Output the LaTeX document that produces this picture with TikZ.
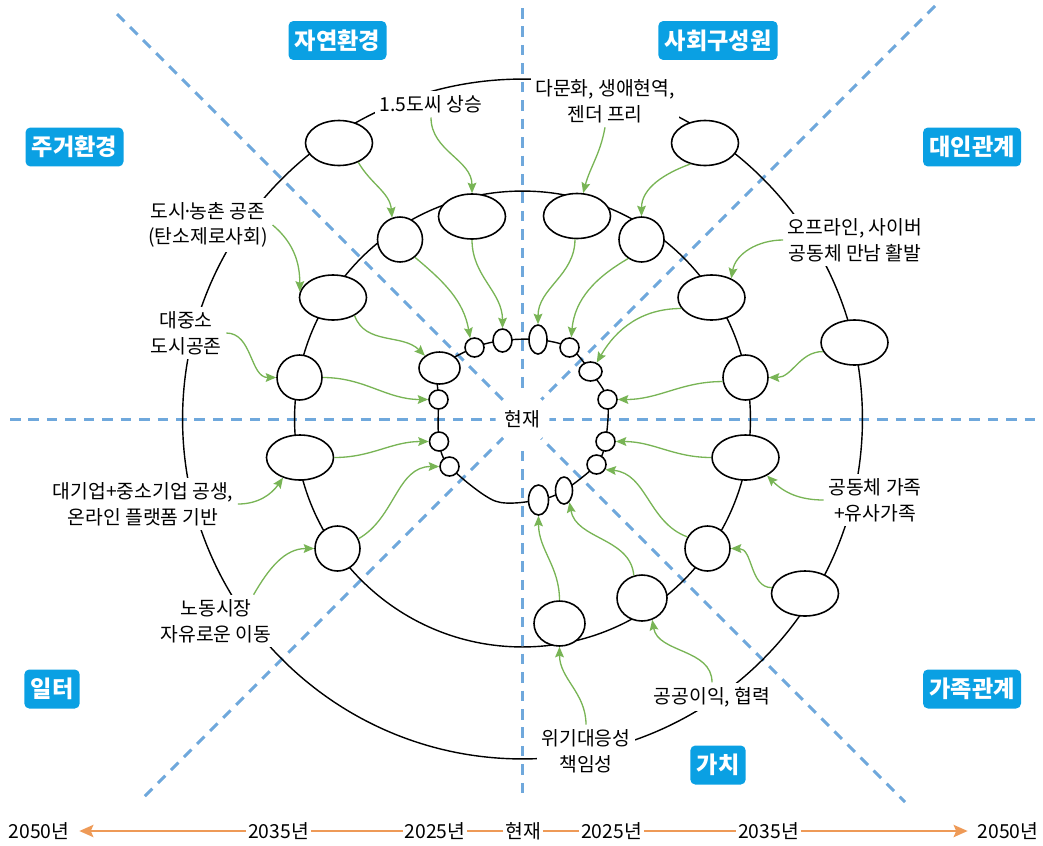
\documentclass[tikz,border=0pt]{standalone}
\usepackage{fontspec}
\setmainfont{Noto Sans CJK KR}
\usetikzlibrary{positioning}
\usetikzlibrary{shapes.geometric}
\usetikzlibrary{arrows.meta}
\definecolor{catblue}{HTML}{0AA0E3}
\definecolor{dashblue}{HTML}{6FA8DC}
\definecolor{leafgreen}{HTML}{78B455}
\definecolor{timeorange}{HTML}{EE9A57}
\pgfdeclarelayer{background}
\pgfsetlayers{background,main}

\begin{document}
\begin{tikzpicture}[x=0.02cm, y=-0.02cm,
    every node/.style={font=\fontsize{11}{14.6}\selectfont},
    oval/.style 2 args={draw, ellipse, fill=white, line width=0.9pt, inner sep=0pt,
        minimum width=#1*0.02cm, minimum height=#2*0.02cm},
    lbl/.style={fill=white, align=center, inner sep=2.5pt},
    cat/.style={fill=catblue, text=white, rounded corners=2.8pt, inner xsep=3.6pt,
        minimum height=0.78cm, font=\fontsize{13.2}{15}\selectfont\bfseries},
    yr/.style={inner xsep=1pt},
    ringline/.style={line width=0.8pt},
    guide/.style={dashblue, line width=1.7pt, dash pattern=on 6pt off 4.5pt},
    sprout/.style={leafgreen, line width=0.75pt, -{Stealth[length=6pt,width=5pt,inset=1pt]}},
    timespan/.style={timeorange, line width=1.2pt}]

    \useasboundingbox (0,0) rectangle (1043,845);

    % Centre
    \node[circle, fill=white, minimum size=1.08cm, inner sep=0pt] (present) at (522.5,419) {현재};

    % Inner ring (2025)
    \node[oval={41}{32}] (i1) at (439.5,368) {};
    \node[oval={19}{19}] (i2) at (474.5,347.5) {};
    \node[oval={19}{23}] (i3) at (502.5,340.5) {};
    \node[oval={18}{29}] (i4) at (538,339.5) {};
    \node[oval={19}{19}] (i5) at (569.5,347.5) {};
    \node[oval={23}{19}] (i6) at (590.5,371.5) {};
    \node[oval={19}{19}] (i7) at (607.5,399.5) {};
    \node[oval={19}{19}] (i8) at (605.5,441.5) {};
    \node[oval={19}{19}] (i9) at (596.5,464.5) {};
    \node[oval={17}{27}] (i10) at (564,490.5) {};
    \node[oval={20}{30}] (i11) at (538.5,500) {};
    \node[oval={19}{19}] (i12) at (449.5,466.5) {};
    \node[oval={19}{19}] (i13) at (439,441.5) {};
    \node[oval={19}{19}] (i14) at (438.5,399.5) {};

    % Middle ring (2035)
    \node[oval={45}{45}] (m1) at (400,239.5) {};
    \node[oval={67}{45}] (m2) at (472,216.5) {};
    \node[oval={67}{45}] (m3) at (577,216) {};
    \node[oval={45}{45}] (m4) at (641.5,239.5) {};
    \node[oval={67}{45}] (m5) at (711.5,297.5) {};
    \node[oval={45}{45}] (m6) at (745.5,377.5) {};
    \node[oval={67}{45}] (m7) at (745.5,457.5) {};
    \node[oval={45}{45}] (m8) at (707.5,548.5) {};
    \node[oval={50}{46}] (m9) at (642,598) {};
    \node[oval={51}{45}] (m10) at (559.5,623.5) {};
    \node[oval={45}{45}] (m11) at (337.5,548.5) {};
    \node[oval={67}{45}] (m12) at (300,457.5) {};
    \node[oval={45}{45}] (m13) at (299.5,377.5) {};
    \node[oval={67}{45}] (m14) at (333,297.5) {};

    % Outer ring (2050)
    \node[oval={67}{45}] (o1) at (339,143) {};
    \node[oval={67}{45}] (o2) at (705,143) {};
    \node[oval={67}{45}] (o3) at (854.5,342.5) {};
    \node[oval={67}{45}] (o4) at (805,593.5) {};

    % Labels on the outer ring
    \node[lbl] (heat) at (431,104) {1.5도씨 상승};
    \node[lbl] (diversity) at (605,101) {다문화, 생애현역,\\젠더 프리};
    \node[lbl] (meetup) at (855,240) {오프라인, 사이버\\공동체 만남 활발};
    \node[lbl] (family) at (875,500) {공동체 가족\\+유사가족};
    \node[lbl] (publicgood) at (712,697) {공공이익, 협력};
    \node[lbl] (crisis) at (586,751) {위기대응성\\책임성};
    \node[lbl] (labour) at (216,621) {노동시장\\자유로운 이동};
    \node[lbl] (platform) at (143,504) {대기업+중소기업 공생,\\온라인 플랫폼 기반};
    \node[lbl] (cities) at (186,333) {대중소\\도시공존};
    \node[lbl] (ruralurban) at (208,225) {도시\kern-0.2em·\kern-0.2em농촌 공존\\(탄소제로사회)};

    % Sectors
    \node[cat] (nature) at (337.5,40.5) {자연환경};
    \node[cat] (members) at (718,40.5) {사회구성원};
    \node[cat] (housing) at (74.5,147) {주거환경};
    \node[cat] (relations) at (972,147) {대인관계};
    \node[cat] (workplace) at (52,689) {일터};
    \node[cat] (kinship) at (972,689) {가족관계};
    \node[cat] (values) at (718,765) {가치};

    % Guides and rings
    \begin{pgfonlayer}{background}
        \draw[guide] (10,419) -- (1035,419);
        \draw[guide] (522.5,8) -- (522.5,800);
        \draw[guide] (117,14) -- (905,802);
        \draw[guide] (935,6) -- (140,801);
        \draw[ringline] (present.center) circle[radius=6.8cm];
        \draw[ringline] (present.center) circle[radius=4.56cm];
        \draw[ringline] plot[smooth cycle] coordinates {(i1.center) (i2.center) (i3.center)
            (i4.center) (i5.center) (i6.center) (i7.center) (i8.center) (i9.center)
            (i10.center) (i11.center) (495,501) (i12.center) (i13.center) (i14.center)};
    \end{pgfonlayer}

    % Arrows 2050 -> 2035
    \draw[sprout] (heat.south) to[out=-90, in=90] (m2.north);
    \draw[sprout] (o1.-45) to[out=-60, in=95] (m1.110);
    \draw[sprout] (ruralurban.east) to[out=-40, in=90] (m14.170);
    \draw[sprout] (cities.east) to[out=0, in=180] (m13.west);
    \draw[sprout] (platform.east) to[out=0, in=235] (m12.230);
    \draw[sprout] (labour.35) to[out=60, in=180] (m11.west);
    \draw[sprout] (crisis.north) to[out=90, in=-90] (m10.south);
    \draw[sprout] (publicgood.north) to[out=90, in=-80] (m9.-65);
    \draw[sprout] (o4.170) to[out=180, in=0] (m8.east);
    \draw[sprout] (family.west) to[out=180, in=-45] (m7.-40);
    \draw[sprout] (o3.196) to[out=180, in=0] (m6.east);
    \draw[sprout] (meetup.west) to[out=180, in=80] (m5.44);
    \draw[sprout] (o2.235) to[out=200, in=90] (m4.north);
    \draw[sprout] (diversity.south) to[out=-100, in=75] (m3.75);

    % Arrows 2035 -> 2025
    \draw[sprout] (m1.-50) to[out=-40, in=100] (i2.115);
    \draw[sprout] (m2.south) to[out=-90, in=90] (i3.north);
    \draw[sprout] (m3.-95) to[out=-90, in=90] (i4.north);
    \draw[sprout] (m4.235) to[out=210, in=85] (i5.80);
    \draw[sprout] (m5.200) to[out=180, in=60] (i6.55);
    \draw[sprout] (m6.190) to[out=180, in=0] (i7.east);
    \draw[sprout] (m7.west) to[out=180, in=0] (i8.east);
    \draw[sprout] (m8.150) to[out=160, in=-5] (i9.-30);
    \draw[sprout] (m9.110) to[out=95, in=-80] (i10.-65);
    \draw[sprout] (m10.north) to[out=90, in=-90] (i11.south);
    \draw[sprout] (m11.25) to[out=30, in=180] (i12.west);
    \draw[sprout] (m12.east) to[out=0, in=180] (i13.west);
    \draw[sprout] (m13.east) to[out=0, in=180] (i14.west);
    \draw[sprout] (m14.-40) to[out=-70, in=135] (i1.140);

    % Timeline
    \node[yr] (l2050) at (39,831) {2050년};
    \node[yr] (l2035) at (278.5,831) {2035년};
    \node[yr] (l2025) at (435,831) {2025년};
    \node[yr] (t0) at (523,831) {현재};
    \node[yr] (r2025) at (611.5,831) {2025년};
    \node[yr] (r2035) at (768.5,831) {2035년};
    \node[yr] (r2050) at (1008,831) {2050년};
    \draw[timespan, -{Stealth[length=8pt,width=7pt,inset=1.5pt]}, shorten >=4.5pt] (l2035) -- (l2050);
    \draw[timespan] (l2025) -- (l2035);
    \draw[timespan] (t0) -- (l2025);
    \draw[timespan] (t0) -- (r2025);
    \draw[timespan] (r2025) -- (r2035);
    \draw[timespan, -{Stealth[length=8pt,width=7pt,inset=1.5pt]}, shorten >=4.5pt] (r2035) -- (r2050);

\end{tikzpicture}
\end{document}
